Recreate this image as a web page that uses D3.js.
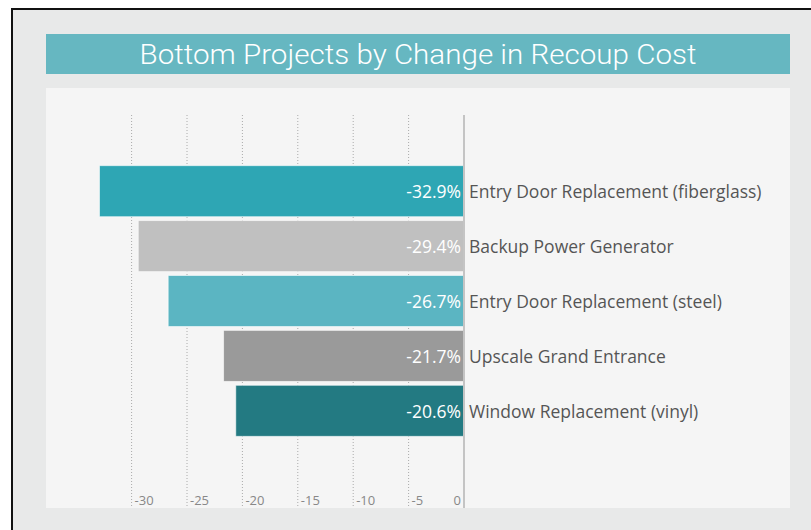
<!DOCTYPE html>
<head>
  <meta charset="utf-8">
  <script src="https://d3js.org/d3.v7.min.js"></script>
<style>
    body {
        margin: 0;
        background: #fff;
    }
    .frame {
        position: absolute;
        left: 11px;
        top: 8px;
        width: 800px;
        height: 522px;
        background: #e8e9e9;
        border-left: 2px solid #111;
        border-top: 2px solid #111;
    }
    text {
        font-family: "Open Sans", sans-serif;
    }
</style>
</head>

<body>
<div class="frame"></div>

  <script>

var projects = ["Entry Door Replacement (fiberglass)", "Backup Power Generator",
    "Entry Door Replacement (steel)", "Upscale Grand Entrance", "Window Replacement (vinyl)"];
var changes = [-32.9, -29.4, -26.7, -21.7, -20.6];
var colors = ["#2ea6b4", "#c0c0c0", "#5bb5c2", "#9a9a9a", "#237a82"];
var ticks = [-30, -25, -20, -15, -10, -5, 0];

var width = 811;
var height = 530;

var svg = d3.select("body")
    .append("svg")
    .attr("width", width)
    .attr("height", height)
    .style("position", "absolute")
    .style("left", 0)
    .style("top", 0);

// title band
svg.append("rect")
    .attr("x", 46).attr("y", 34)
    .attr("width", 744).attr("height", 40)
    .attr("fill", "#66b7c1");

svg.append("text")
    .attr("x", 418).attr("y", 64)
    .attr("text-anchor", "middle")
    .attr("fill", "#fff")
    .attr("textLength", 557)
    .attr("lengthAdjust", "spacingAndGlyphs")
    .style("font-family", "Roboto, sans-serif")
    .style("font-weight", 300)
    .style("font-size", "28px")
    .text("Bottom Projects by Change in Recoup Cost");

// plot panel
svg.append("rect")
    .attr("x", 46).attr("y", 88)
    .attr("width", 744).attr("height", 420)
    .attr("fill", "#f5f5f5");

var x = d3.scaleLinear()
    .domain([0, -33])
    .range([464, 464 - 33 * 11.08]);

var y = d3.scaleBand()
    .domain(projects)
    .range([164, 438])
    .paddingInner(0.07)
    .paddingOuter(0.03);

// grid
svg.selectAll(".grid")
    .data(ticks.filter(function (d) { return d != 0; }))
    .enter()
    .append("line")
    .attr("x1", function (d) { return x(d); })
    .attr("x2", function (d) { return x(d); })
    .attr("y1", 115).attr("y2", 508)
    .attr("stroke", "#aaa")
    .attr("stroke-width", 1)
    .attr("stroke-dasharray", "1,2");

svg.selectAll(".bar")
    .data(changes)
    .enter()
    .append("rect")
    .attr("x", function (d) { return x(d); })
    .attr("y", function (d, i) { return y(projects[i]); })
    .attr("width", function (d) { return x(0) - x(d); })
    .attr("height", y.bandwidth())
    .attr("fill", function (d, i) { return colors[i]; })
    .attr("stroke", "rgba(255,255,255,0.6)")
    .attr("stroke-width", 1);

// zero line
svg.append("line")
    .attr("x1", x(0)).attr("x2", x(0))
    .attr("y1", 115).attr("y2", 508)
    .attr("stroke", "#c4c4c4")
    .attr("stroke-width", 2);

svg.selectAll(".val")
    .data(changes)
    .enter()
    .append("text")
    .attr("x", x(0) - 3)
    .attr("y", function (d, i) { return y(projects[i]) + y.bandwidth() / 2 + 7; })
    .attr("text-anchor", "end")
    .attr("fill", "#fff")
    .style("font-size", "17.5px")
    .text(function (d) { return d.toFixed(1) + "%"; });

svg.selectAll(".name")
    .data(projects)
    .enter()
    .append("text")
    .attr("x", x(0) + 5)
    .attr("y", function (d) { return y(d) + y.bandwidth() / 2 + 7; })
    .attr("fill", "#555")
    .style("font-size", "17.5px")
    .text(function (d) { return d; });

svg.selectAll(".tick")
    .data(ticks)
    .enter()
    .append("text")
    .attr("x", function (d) { return d == 0 ? x(d) - 3 : x(d) + 3; })
    .attr("y", 505)
    .attr("text-anchor", function (d) { return d == 0 ? "end" : "start"; })
    .attr("fill", "#888")
    .style("font-size", "13px")
    .text(function (d) { return d; });

  </script>
</body>
